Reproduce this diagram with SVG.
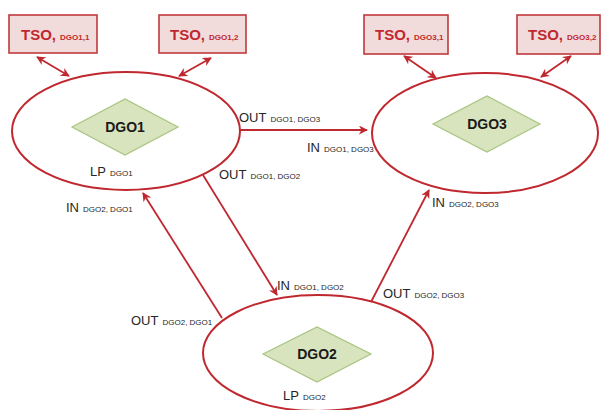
<svg xmlns="http://www.w3.org/2000/svg" width="601" height="410" viewBox="0 0 601 410">
  <style>
    .tso rect { fill: #f2dcdb; stroke: #c0393b; stroke-width: 1.6; }
    .tso text { font-family: "Liberation Sans", Arial, sans-serif; font-weight: bold; fill: #c0282f; }
    .area ellipse { fill: #ffffff; stroke: #c0282f; stroke-width: 2; }
    .area polygon { fill: #d7e4bd; stroke: #a9c47f; stroke-width: 1.2; }
    .name { font-family: "Liberation Sans", Arial, sans-serif; font-weight: bold; font-size: 14px; fill: #1a1a1a; text-anchor: middle; }
    .lbl { font-family: "Liberation Sans", Arial, sans-serif; font-size: 13px; fill: #262626; }
    .sub { font-size: 8px; }
    .big { font-size: 15px; }
    .small { font-size: 8px; }
    .conn line { stroke: #c0282f; stroke-width: 1.8; fill: none; }
  </style>
  <defs>
    <marker id="ah" viewBox="0 0 10 10" refX="9" refY="5" markerWidth="9" markerHeight="9" markerUnits="userSpaceOnUse" orient="auto-start-reverse">
      <path d="M0,0 L10,5 L0,10 L3,5 Z" fill="#c0282f"/>
    </marker>
  </defs>

  <rect width="601" height="410" fill="#ffffff"/>

  <!-- TSO boxes -->
  <g id="tso-dgo1-1" class="tso">
    <rect x="9" y="15" width="88" height="38"/>
    <text x="21" y="40"><tspan class="big">TSO,</tspan><tspan class="small" dx="4">DGO1,1</tspan></text>
  </g>
  <g id="tso-dgo1-2" class="tso">
    <rect x="159" y="15" width="87" height="38"/>
    <text x="170" y="40"><tspan class="big">TSO,</tspan><tspan class="small" dx="4">DGO1,2</tspan></text>
  </g>
  <g id="tso-dgo3-1" class="tso">
    <rect x="364" y="15" width="84" height="39"/>
    <text x="375" y="40"><tspan class="big">TSO,</tspan><tspan class="small" dx="4">DGO3,1</tspan></text>
  </g>
  <g id="tso-dgo3-2" class="tso">
    <rect x="517" y="15" width="83" height="39"/>
    <text x="528" y="40"><tspan class="big">TSO,</tspan><tspan class="small" dx="4">DGO3,2</tspan></text>
  </g>

  <!-- DGO areas -->
  <g id="dgo1" class="area">
    <ellipse cx="126" cy="131" rx="114" ry="59"/>
    <polygon points="72,127 125,99 178,127 125,155"/>
    <text class="name" x="125" y="132">DGO1</text>
    <text class="lbl" x="90" y="176">LP<tspan class="sub" dx="4">DGO1</tspan></text>
  </g>
  <g id="dgo3" class="area">
    <ellipse cx="485" cy="133" rx="113" ry="60"/>
    <polygon points="433,124 487,96 540,124 487,152"/>
    <text class="name" x="487" y="129">DGO3</text>
  </g>
  <g id="dgo2" class="area">
    <ellipse cx="318" cy="353" rx="115" ry="58"/>
    <polygon points="263,354 317,327 371,354 317,382"/>
    <text class="name" x="317" y="359">DGO2</text>
    <text class="lbl" x="283" y="400">LP<tspan class="sub" dx="4">DGO2</tspan></text>
  </g>

  <!-- connectors -->
  <g id="connectors" class="conn">
    <line x1="37" y1="57" x2="69" y2="76" marker-start="url(#ah)" marker-end="url(#ah)"/>
    <line x1="211" y1="58" x2="179" y2="76" marker-start="url(#ah)" marker-end="url(#ah)"/>
    <line x1="404" y1="56" x2="436" y2="78" marker-start="url(#ah)" marker-end="url(#ah)"/>
    <line x1="571" y1="56" x2="541" y2="77" marker-start="url(#ah)" marker-end="url(#ah)"/>
    <line x1="240" y1="130" x2="367" y2="130" marker-end="url(#ah)"/>
    <line x1="203" y1="175" x2="277" y2="295" marker-end="url(#ah)"/>
    <line x1="222" y1="318" x2="143" y2="193" marker-end="url(#ah)"/>
    <line x1="371" y1="302" x2="429" y2="190" marker-end="url(#ah)"/>
  </g>

  <!-- flow labels -->
  <g id="labels">
    <text class="lbl" x="239" y="122">OUT<tspan class="sub" dx="4">DGO1, DGO3</tspan></text>
    <text class="lbl" x="307" y="152">IN<tspan class="sub" dx="4">DGO1, DGO3</tspan></text>
    <text class="lbl" x="219" y="179">OUT<tspan class="sub" dx="4">DGO1, DGO2</tspan></text>
    <text class="lbl" x="66" y="212">IN<tspan class="sub" dx="4">DGO2, DGO1</tspan></text>
    <text class="lbl" x="277" y="290">IN<tspan class="sub" dx="4">DGO1, DGO2</tspan></text>
    <text class="lbl" x="131" y="325">OUT<tspan class="sub" dx="4">DGO2, DGO1</tspan></text>
    <text class="lbl" x="432" y="207">IN<tspan class="sub" dx="4">DGO2, DGO3</tspan></text>
    <text class="lbl" x="383" y="298">OUT<tspan class="sub" dx="4">DGO2, DGO3</tspan></text>
  </g>
</svg>
